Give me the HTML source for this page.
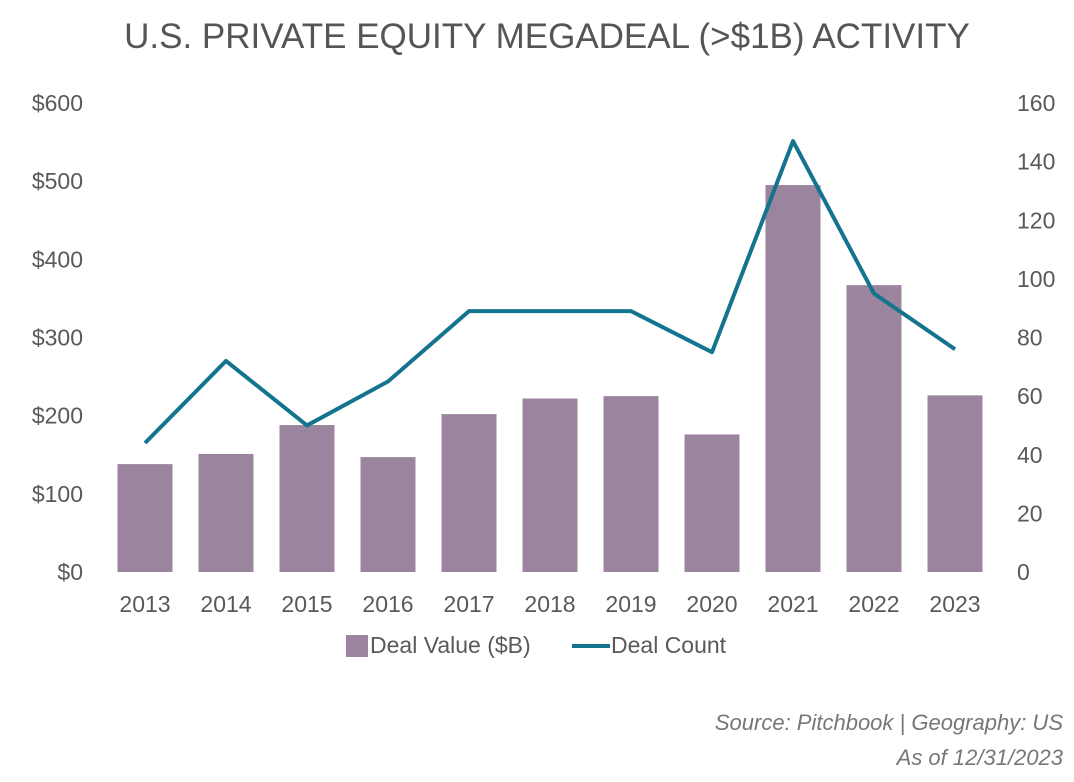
<!DOCTYPE html>
<html><head><meta charset="utf-8"><style>
body{margin:0;background:#fff;width:1074px;height:777px;overflow:hidden;font-family:"Liberation Sans",sans-serif}
</style></head><body>
<svg width="1074" height="777" id="chart">
<text x="547" y="48" text-anchor="middle" font-size="35" fill="#555">U.S. PRIVATE EQUITY MEGADEAL (&gt;$1B) ACTIVITY</text>
<g id="bars"></g>
<g id="line"></g>
<g id="axes"></g>
<g>
<rect x="346" y="635" width="22" height="22" fill="#9b849e"/>
<text x="370" y="653" font-size="23" fill="#595959">Deal Value ($B)</text>
<line x1="572" y1="646" x2="610" y2="646" stroke="#14748e" stroke-width="4"/>
<text x="611" y="653" font-size="23" fill="#595959">Deal Count</text>
</g>
<text x="1063" y="730" text-anchor="end" font-size="22" font-style="italic" fill="#777">Source: Pitchbook | Geography: US</text>
<text x="1063" y="765" text-anchor="end" font-size="22" font-style="italic" fill="#777">As of 12/31/2023</text>
</svg>
<script>
const years=["2013","2014","2015","2016","2017","2018","2019","2020","2021","2022","2023"];
const dealValue=[138,151,188,147,202,222,225,176,495,367,226];
const dealCount=[44,72,50,65,89,89,89,75,147,95,76];
const leftTicks=[0,100,200,300,400,500,600];
const rightTicks=[0,20,40,60,80,100,120,140,160];
const NS="http://www.w3.org/2000/svg";
const y0=572,yTop=103;
const yL=v=>y0-(v/600)*(y0-yTop);
const yR=v=>y0-(v/160)*(y0-yTop);
const xC=i=>145+i*81;
function mk(t,a,p){const e=document.createElementNS(NS,t);for(const k in a)e.setAttribute(k,a[k]);p.appendChild(e);return e;}
const bars=document.getElementById('bars'),line=document.getElementById('line'),axes=document.getElementById('axes');
dealValue.forEach((v,i)=>{const r=mk('rect',{x:xC(i)-27.5,y:yL(v),width:55,height:y0-yL(v),fill:'#9b849e'},bars);

});
const p=mk('polyline',{points:dealCount.map((v,i)=>xC(i)+','+yR(v)).join(' '),fill:'none',stroke:'#14748e','stroke-width':4,'stroke-linejoin':'round'},line);


leftTicks.forEach(v=>{const t=mk('text',{x:83,y:yL(v)+8,'text-anchor':'end','font-size':23,fill:'#595959'},axes);t.textContent='$'+v;

});
rightTicks.forEach(v=>{const t=mk('text',{x:1017,y:yR(v)+8,'font-size':23,fill:'#595959'},axes);t.textContent=v;

});
years.forEach((y,i)=>{const t=mk('text',{x:xC(i),y:612,'text-anchor':'middle','font-size':23,fill:'#595959'},axes);t.textContent=y;

});
</script>
</body></html>
